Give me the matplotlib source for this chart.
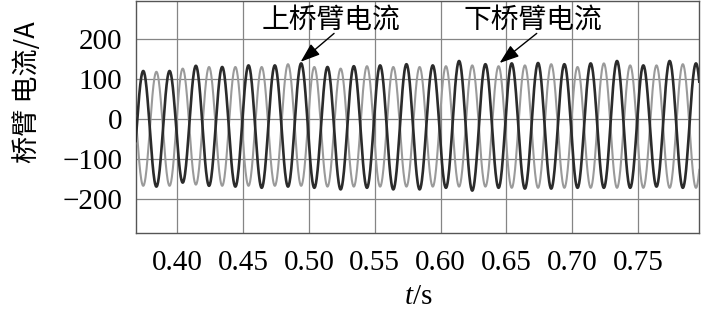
import numpy as np
import matplotlib
matplotlib.use("Agg")
import matplotlib.pyplot as plt

plt.rcParams['font.family'] = ['Liberation Serif', 'Noto Sans CJK SC']
plt.rcParams['mathtext.fontset'] = 'custom'
plt.rcParams['mathtext.rm'] = 'Liberation Serif'
plt.rcParams['mathtext.it'] = 'Liberation Serif:italic'

# ---- data ----
# upper-arm current (dark): peak and trough times (s) and values (A)
upper_peak_t = [0.374, 0.394, 0.414, 0.434, 0.454, 0.474, 0.494, 0.514, 0.534, 0.554, 0.574,
                0.594, 0.614, 0.634, 0.654, 0.674, 0.694, 0.714, 0.734, 0.754, 0.774, 0.794]
upper_peak_v = [121, 121, 134, 131, 135, 135, 140, 131, 133, 135, 138,
                135, 146, 138, 140, 141, 138, 140, 146, 135, 146, 140]
upper_trough_t = [0.364, 0.384, 0.404, 0.424, 0.444, 0.464, 0.484, 0.504, 0.524, 0.544, 0.564, 0.584,
                  0.604, 0.624, 0.644, 0.664, 0.684, 0.704, 0.724, 0.744, 0.764, 0.784, 0.804]
upper_trough_v = [-163, -168, -158, -166, -168, -171, -168, -171, -175, -171, -175, -175,
                  -171, -178, -171, -173, -173, -171, -171, -171, -168, -171, -171]

# lower-arm current (light): peak and trough times (s) and values (A)
lower_peak_t = [0.364, 0.384, 0.404, 0.424, 0.444, 0.464, 0.484, 0.504, 0.524, 0.544, 0.564, 0.584,
                0.604, 0.624, 0.644, 0.664, 0.684, 0.704, 0.724, 0.744, 0.764, 0.784, 0.804]
lower_peak_v = [118, 119, 127, 131, 131, 131, 138, 131, 127, 133, 131, 131,
                133, 135, 133, 135, 138, 131, 140, 135, 135, 138, 136]
lower_trough_t = [0.374, 0.394, 0.414, 0.434, 0.454, 0.474, 0.494, 0.514, 0.534, 0.554, 0.574,
                  0.594, 0.614, 0.634, 0.654, 0.674, 0.694, 0.714, 0.734, 0.754, 0.774, 0.794]
lower_trough_v = [-166, -166, -163, -166, -166, -166, -166, -168, -168, -168, -168,
                  -168, -168, -168, -171, -171, -171, -171, -171, -171, -171, -171]

x_ticks = [0.40, 0.45, 0.50, 0.55, 0.60, 0.65, 0.70, 0.75]
x_ticklabels = ['0.40', '0.45', '0.50', '0.55', '0.60', '0.65', '0.70', '0.75']
y_ticks = [-200, -100, 0, 100, 200]
y_ticklabels = ['\u2212200', '\u2212100', '0', '100', '200']


def waveform(pt, pv, tt, tv, n=40):
    ext = sorted(zip(pt + tt, pv + tv))
    ts, vs = [], []
    for (t0, v0), (t1, v1) in zip(ext[:-1], ext[1:]):
        s = np.linspace(0, 1, n, endpoint=False)
        ts.append(t0 + (t1 - t0) * s)
        vs.append(v0 + (v1 - v0) * (1 - np.cos(np.pi * s)) / 2)
    ts.append([ext[-1][0]])
    vs.append([ext[-1][1]])
    return np.concatenate(ts), np.concatenate(vs)


fig = plt.figure(figsize=(7.09, 3.21), dpi=100)
ax = fig.add_axes([136 / 709, 1 - 233 / 321, (699 - 136) / 709, 232 / 321])

tl, vl = waveform(lower_peak_t, lower_peak_v, lower_trough_t, lower_trough_v)
tu, vu = waveform(upper_peak_t, upper_peak_v, upper_trough_t, upper_trough_v)
ax.plot(tl, vl, color='#9a9a9a', lw=1.5, zorder=3)
ax.plot(tu, vu, color='#2b2b2b', lw=1.9, zorder=4)

ax.set_xlim(0.3685, 0.7963)
ax.set_ylim(-284, 296)
ax.set_xticks(x_ticks)
ax.set_xticklabels(x_ticklabels, fontsize=21)
ax.set_yticks(y_ticks)
ax.set_yticklabels(y_ticklabels, fontsize=21)
ax.tick_params(length=0)
ax.tick_params(axis='x', pad=12)
ax.tick_params(axis='y', pad=10)
ax.grid(True, color='#858585', lw=0.9)
ax.set_axisbelow(True)
for sp in ax.spines.values():
    sp.set_color('#555555')
    sp.set_linewidth(1.0)

arrow_style = '-|>,head_length=0.7,head_width=0.25'
ax.text(0.5167, 250, '上桥臂电流', fontsize=20, family=['Noto Sans CJK SC'],
        ha='center', va='center', zorder=6)
ax.annotate('', xy=(0.4936, 144), xytext=(0.5190, 215),
            arrowprops=dict(arrowstyle=arrow_style, color='black', lw=1.0,
                            mutation_scale=17, shrinkA=0, shrinkB=0),
            zorder=6)
ax.text(0.670, 250, '下桥臂电流', fontsize=20, family=['Noto Sans CJK SC'],
        ha='center', va='center', zorder=6)
ax.annotate('', xy=(0.6448, 141), xytext=(0.6730, 215),
            arrowprops=dict(arrowstyle=arrow_style, color='black', lw=1.0,
                            mutation_scale=17, shrinkA=0, shrinkB=0),
            zorder=6)

fig.text(27 / 709, 1 - 92 / 321, '桥臂 电流/A', rotation=90, fontsize=19.5,
         family=['Noto Sans CJK SC', 'DejaVu Sans'], ha='center', va='center')
fig.text(418 / 709, 1 - 297 / 321, r'$t$/s', fontsize=21, ha='center', va='center')

fig.savefig('out.png', dpi=100)
